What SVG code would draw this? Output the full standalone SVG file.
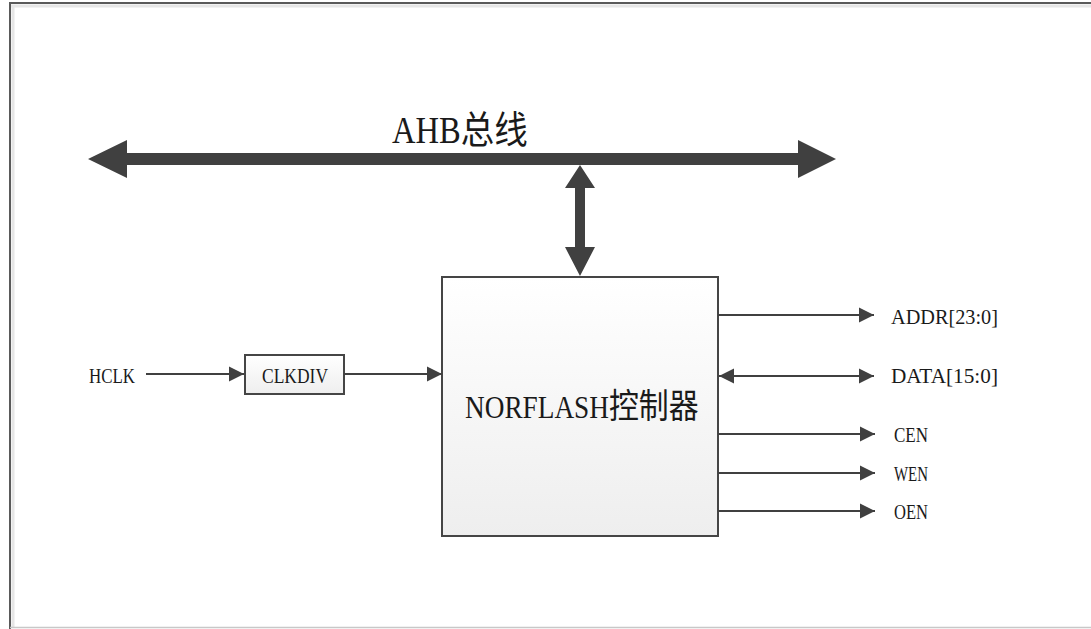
<svg xmlns="http://www.w3.org/2000/svg" width="1091" height="629" viewBox="0 0 1091 629">
<defs>
<linearGradient id="boxfill" x1="0" y1="0" x2="0" y2="1">
<stop offset="0" stop-color="#ffffff"/>
<stop offset="1" stop-color="#eeeeee"/>
</linearGradient>
<marker id="ah" markerUnits="userSpaceOnUse" markerWidth="18" markerHeight="18" viewBox="0 0 18 18" refX="16" refY="9" orient="auto-start-reverse">
<path d="M1,1.5 L16,9 L1,16.5 Z" fill="#404040"/>
</marker>
</defs>
<style>
.t{font-family:"Liberation Serif",serif;fill:#1a1a1a;}
.cjk{font-family:"Noto Sans CJK SC",sans-serif;}
.ln{stroke:#404040;stroke-width:2;fill:none;}
.box{stroke:#454545;stroke-width:2;fill:url(#boxfill);}
</style>
<rect x="0" y="0" width="1091" height="629" fill="#ffffff"/>
<g id="frame">
<line x1="9" y1="3" x2="1091" y2="3" stroke="#5a5a5a" stroke-width="2"/>
<line x1="11" y1="6" x2="1091" y2="6" stroke="#e6e6e6" stroke-width="3"/>
<line x1="10" y1="2" x2="10" y2="629" stroke="#5a5a5a" stroke-width="2"/>
<line x1="13" y1="6" x2="13" y2="627" stroke="#e6e6e6" stroke-width="3"/>
<line x1="10" y1="627.5" x2="1091" y2="627.5" stroke="#c8c8c8" stroke-width="1.5"/>
</g>
<g id="ahb-bus">
<polygon points="88,159 127,140 127,153 798,153 798,140 836,159 798,178 798,165 127,165 127,178" fill="#404040"/>
<text class="t" transform="translate(392,143) scale(0.88,1)" x="0" y="0" font-size="37">AHB<tspan class="cjk" font-size="38">总线</tspan></text>
</g>
<g id="norflash">
<rect class="box" x="442" y="277" width="276" height="259"/>
<text class="t" transform="translate(465,418) scale(0.88,1)" x="0" y="0" font-size="31">NORFLASH<tspan class="cjk" font-size="34">控制器</tspan></text>
</g>
<g id="clkdiv">
<rect class="box" x="245" y="355" width="99" height="39"/>
<text class="t" x="262" y="383" font-size="22" textLength="66" lengthAdjust="spacingAndGlyphs">CLKDIV</text>
</g>
<g id="hclk">
<text class="t" x="89" y="383" font-size="22" textLength="46" lengthAdjust="spacingAndGlyphs">HCLK</text>
</g>
<g id="addr"><text class="t" x="891" y="324" font-size="22" textLength="107" lengthAdjust="spacingAndGlyphs">ADDR[23:0]</text></g>
<g id="data"><text class="t" x="891" y="383" font-size="22" textLength="107" lengthAdjust="spacingAndGlyphs">DATA[15:0]</text></g>
<g id="cen"><text class="t" x="894" y="442" font-size="22" textLength="34" lengthAdjust="spacingAndGlyphs">CEN</text></g>
<g id="wen"><text class="t" x="894" y="481" font-size="22" textLength="34" lengthAdjust="spacingAndGlyphs">WEN</text></g>
<g id="oen"><text class="t" x="894" y="519" font-size="22" textLength="34" lengthAdjust="spacingAndGlyphs">OEN</text></g>
<g id="connectors">
<polygon points="580,165 595,188 585,188 585,247 595,247 580,276 565,247 575,247 575,188 565,188" fill="#404040"/>
<line class="ln" x1="146" y1="374" x2="244" y2="374" marker-end="url(#ah)"/>
<line class="ln" x1="344" y1="374" x2="442" y2="374" marker-end="url(#ah)"/>
<line class="ln" x1="718" y1="315" x2="874" y2="315" marker-end="url(#ah)"/>
<line class="ln" x1="719" y1="376" x2="874" y2="376" marker-start="url(#ah)" marker-end="url(#ah)"/>
<line class="ln" x1="718" y1="434" x2="875" y2="434" marker-end="url(#ah)"/>
<line class="ln" x1="718" y1="473" x2="875" y2="473" marker-end="url(#ah)"/>
<line class="ln" x1="718" y1="511" x2="875" y2="511" marker-end="url(#ah)"/>
</g>
</svg>
